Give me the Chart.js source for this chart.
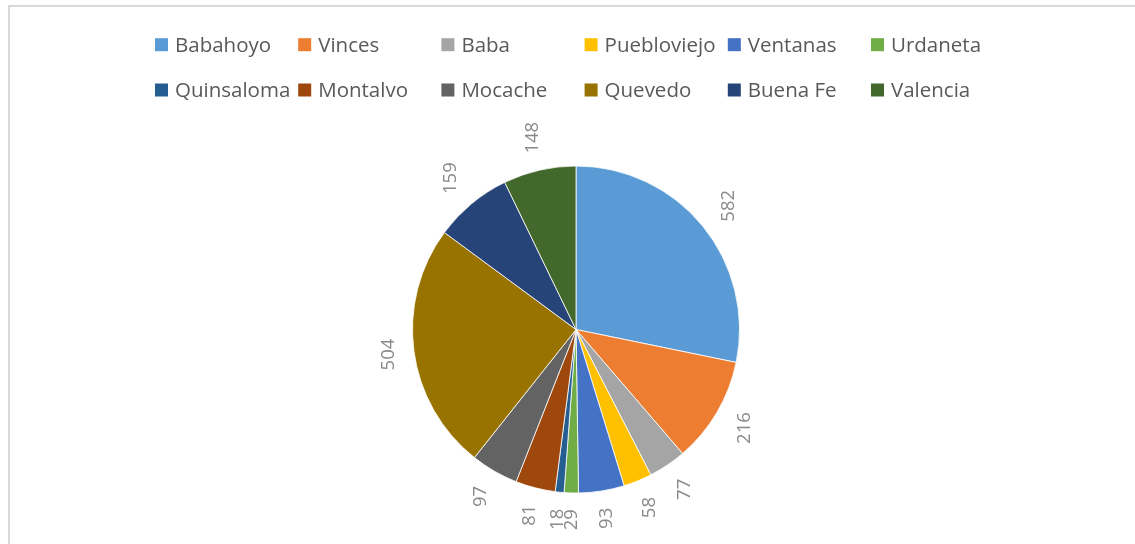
<!DOCTYPE html>
<html>
<head>
<meta charset="utf-8">
<script src="https://cdn.jsdelivr.net/npm/chart.js@4/dist/chart.umd.min.js"></script>
<style>
  html, body { margin: 0; padding: 0; background: #ffffff; }
  #wrap { width: 1135px; height: 544px; position: relative; }
</style>
</head>
<body>
<div id="wrap"><canvas id="c" width="1135" height="544"></canvas></div>
<script>
const categories = ["Babahoyo", "Vinces", "Baba", "Puebloviejo", "Ventanas", "Urdaneta",
                    "Quinsaloma", "Montalvo", "Mocache", "Quevedo", "Buena Fe", "Valencia"];
const values = [582, 216, 77, 58, 93, 29, 18, 81, 97, 504, 159, 148];
const colors = ["#5B9BD5", "#ED7D31", "#A5A5A5", "#FFC000", "#4472C4", "#70AD47",
                "#255E91", "#9E480E", "#636363", "#997300", "#264478", "#43682B"];

const FONT = '"Open Sans", "DejaVu Sans", sans-serif';

const framePlugin = {
  id: 'frame',
  beforeDraw(chart) {
    const ctx = chart.ctx;
    ctx.save();
    ctx.fillStyle = '#ffffff';
    ctx.fillRect(0, 0, chart.width, chart.height);
    ctx.strokeStyle = '#d9d9d9';
    ctx.lineWidth = 2;
    ctx.strokeRect(9, 6, chart.width + 20, chart.height + 20);
    ctx.restore();
  }
};

const legendPlugin = {
  id: 'gridLegend',
  afterDraw(chart) {
    const ctx = chart.ctx;
    const meta = chart.getDatasetMeta(0);
    const cols = 6, x0 = 155, colW = 143.2, rows = [44.7, 90];
    ctx.save();
    ctx.font = '20.5px ' + FONT;
    ctx.textBaseline = 'middle';
    ctx.textAlign = 'left';
    chart.data.labels.forEach((lab, i) => {
      const r = Math.floor(i / cols), c = i % cols;
      const x = x0 + c * colW, y = rows[r];
      ctx.fillStyle = meta.data[i].options.backgroundColor;
      ctx.fillRect(x, y - 6.5, 13, 13);
      ctx.fillStyle = '#595959';
      ctx.fillText(lab, x + 20, y + 1);
    });
    ctx.restore();
  }
};

const labelPlugin = {
  id: 'outerLabels',
  afterDatasetsDraw(chart) {
    const ctx = chart.ctx;
    const meta = chart.getDatasetMeta(0);
    const ds = chart.data.datasets[0];
    ctx.save();
    ctx.font = '18.5px ' + FONT;
    ctx.fillStyle = '#898989';
    ctx.textAlign = 'center';
    ctx.textBaseline = 'middle';
    meta.data.forEach((arc, i) => {
      const p = arc.getProps(['x', 'y', 'startAngle', 'endAngle', 'outerRadius'], true);
      const mid = (p.startAngle + p.endAngle) / 2;
      const txt = String(ds.data[i]);
      const tw = ctx.measureText(txt).width;
      const hw = 8, hh = tw / 2;
      const cs = Math.cos(mid), sn = Math.sin(mid);
      const d = p.outerRadius + 16 + hw * Math.abs(cs) + hh * Math.abs(sn);
      const lx = p.x + cs * d, ly = p.y + sn * d;
      ctx.save();
      ctx.translate(lx, ly);
      ctx.rotate(-Math.PI / 2);
      ctx.fillText(txt, 0, 1);
      ctx.restore();
    });
    ctx.restore();
  }
};

new Chart(document.getElementById('c'), {
  type: 'pie',
  data: {
    labels: categories,
    datasets: [{
      data: values,
      backgroundColor: colors,
      borderColor: '#ffffff',
      borderWidth: 0.8
    }]
  },
  options: {
    responsive: false,
    devicePixelRatio: 1,
    animation: false,
    radius: 163.5,
    layout: { padding: { top: 166, bottom: 51, left: 17, right: 0 } },
    plugins: {
      legend: { display: false },
      tooltip: { enabled: false },
      title: { display: false }
    }
  },
  plugins: [framePlugin, legendPlugin, labelPlugin]
});
</script>
</body>
</html>
